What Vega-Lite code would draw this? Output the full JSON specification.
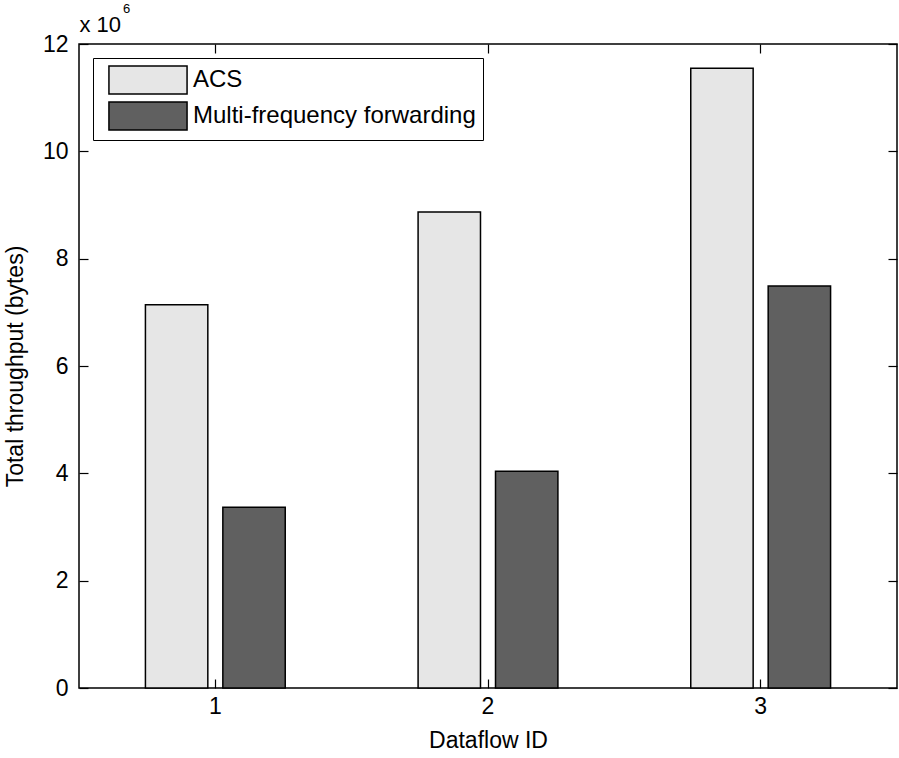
{
  "$schema": "https://vega.github.io/schema/vega-lite/v6.json",
  "width": 818,
  "height": 644,
  "autosize": "none",
  "padding": {"left": 79, "top": 44, "right": 2, "bottom": 70},
  "background": "white",
  "config": {
    "font": "Liberation Sans",
    "view": {"stroke": "black", "strokeWidth": 1.5},
    "axis": {
      "domain": false,
      "grid": false,
      "tickColor": "black",
      "tickSize": -9,
      "tickWidth": 1.2,
      "labelColor": "black",
      "labelFontSize": 23,
      "labelFont": "Liberation Sans",
      "titleColor": "black",
      "titleFontSize": 23,
      "titleFontWeight": "normal",
      "titleFont": "Liberation Sans"
    },
    "legend": {
      "orient": "top-left",
      "offset": 14,
      "strokeColor": "black",
      "fillColor": "white",
      "padding": 7,
      "labelFontSize": 24,
      "labelColor": "black",
      "labelFont": "Liberation Sans",
      "labelLimit": 500
    }
  },
  "title": {
    "text": "6",
    "anchor": "start",
    "frame": "group",
    "dx": 44,
    "fontSize": 13,
    "fontWeight": "normal",
    "font": "Liberation Sans",
    "color": "black",
    "baseline": "alphabetic",
    "offset": -13
  },
  "data": {
    "values": [
      {"Dataflow ID": "1", "Scheme": "ACS", "Throughput": 7.14},
      {"Dataflow ID": "1", "Scheme": "Multi-frequency forwarding", "Throughput": 3.37},
      {"Dataflow ID": "2", "Scheme": "ACS", "Throughput": 8.87},
      {"Dataflow ID": "2", "Scheme": "Multi-frequency forwarding", "Throughput": 4.04},
      {"Dataflow ID": "3", "Scheme": "ACS", "Throughput": 11.55},
      {"Dataflow ID": "3", "Scheme": "Multi-frequency forwarding", "Throughput": 7.49}
    ]
  },
  "encoding": {
    "xOffset": {
      "field": "Scheme",
      "type": "nominal",
      "sort": ["ACS", "Multi-frequency forwarding"],
      "scale": {"paddingInner": 0.194, "paddingOuter": 0.858}
    }
  },
  "layer": [
    {
      "mark": {"type": "bar", "stroke": "black", "strokeWidth": 1.5},
      "encoding": {
        "x": {
          "field": "Dataflow ID",
          "type": "ordinal",
          "scale": {"paddingInner": 0, "paddingOuter": 0},
          "axis": {"orient": "bottom", "labelAngle": 0, "labelPadding": 16, "title": "Dataflow ID", "titlePadding": 11}
        },
        "y": {
          "field": "Throughput",
          "type": "quantitative",
          "scale": {"domain": [0, 12], "nice": false},
          "axis": {"orient": "left", "values": [0, 2, 4, 6, 8, 10, 12], "labelPadding": 20, "title": "Total throughput (bytes)", "titlePadding": 15}
        },
        "fill": {
          "field": "Scheme",
          "type": "nominal",
          "sort": ["ACS", "Multi-frequency forwarding"],
          "scale": {"range": ["#e6e6e6", "#606060"]},
          "legend": {
            "title": null,
            "symbolType": "M-2.79,-1H2.79V1H-2.79Z",
            "symbolSize": 784,
            "symbolOffset": 33,
            "labelOffset": 30,
            "symbolStrokeColor": "black",
            "symbolStrokeWidth": 1.5,
            "symbolOpacity": 1,
            "rowPadding": 2
          }
        }
      }
    },
    {
      "mark": {"type": "bar", "opacity": 0},
      "encoding": {
        "x": {
          "field": "Dataflow ID",
          "type": "ordinal",
          "axis": {
            "orient": "top",
            "labels": false,
            "title": "x 10",
            "titleFontSize": 22,
            "titleAnchor": "start",
            "titleAlign": "left",
            "titleBaseline": "alphabetic",
            "titlePadding": 12
          }
        },
        "y": {
          "field": "Throughput",
          "type": "quantitative",
          "axis": {"orient": "right", "values": [0, 2, 4, 6, 8, 10, 12], "labels": false, "title": null}
        }
      }
    }
  ],
  "resolve": {"axis": {"x": "independent", "y": "independent"}}
}
